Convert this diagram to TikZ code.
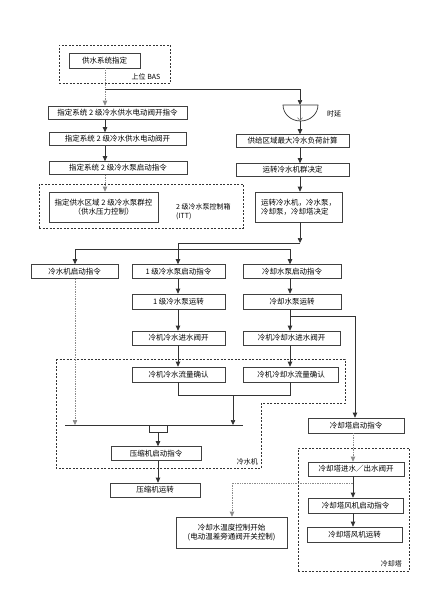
\documentclass[tikz,border=0pt]{standalone}
\usepackage{fontspec}
\setmainfont{Noto Sans CJK SC}
\usetikzlibrary{arrows.meta}
\begin{document}
\begin{tikzpicture}[x=1pt,y=-1pt,
  box/.style={draw=black!75, line width=0.65pt, minimum height=13pt, inner sep=1pt, align=center, font=\fontsize{7.5}{9.5}\selectfont},
  arr/.style={-{Triangle[width=4.5pt,length=5pt]}, line width=0.7pt, draw=black!80},
  dotarr/.style={-{Triangle[width=4.5pt,length=5pt]}, densely dotted, line width=0.7pt, draw=black!45},
  ln/.style={line width=0.7pt, draw=black!80},
  dln/.style={densely dotted, line width=0.7pt, draw=black!45},
  grp/.style={draw=black!80, dash pattern=on 2pt off 1.5pt, line width=0.6pt, inner sep=0pt},
  lbl/.style={font=\fontsize{7}{9}\selectfont, inner sep=0pt}
]
\useasboundingbox (0,0) rectangle (433,608);

% ---------- top left ----------
\node[grp, minimum width=111pt, minimum height=38pt] (g0) at (114.5,64) {};
\node[box, minimum width=71pt, minimum height=15pt] (n0) at (104.5,60.5) {供水系统指定};
\node[lbl] (l0) at (146,77) {上位 BAS};

\node[box, minimum width=139pt] (s1) at (117.5,112.5) {指定系统 2 级冷水供水电动阀开指令};
\node[box, minimum width=137pt] (s2) at (117.5,139) {指定系统 2 级冷水供水电动阀开};
\node[box, minimum width=138pt] (s3) at (118,168) {指定系统 2 级冷水泵启动指令};
\node[grp, minimum width=204pt, minimum height=44pt] (g1) at (141,206) {};
\node[box, minimum width=109pt, minimum height=30pt] (s4) at (103.5,207) {指定供水区域 2 级冷水泵群控\\（供水压力控制）};
\node[lbl, anchor=west, align=left] (l1) at (176,212) {2 级冷水泵控制箱\\(ITT)};

\coordinate (k0) at (105,89);
\draw[dln] (n0.south -| k0) -- (k0);
\draw[dotarr] (k0) -- (s1.north -| k0);
\draw[arr] (s1.south -| k0) -- (s2.north -| k0);
\draw[arr] (s2.south -| k0) -- (s3.north -| k0);
\draw[dotarr] (s3.south -| k0) -- (s4.north -| k0);

% ---------- right column ----------
\coordinate (kR) at (300,89);
\coordinate (dT) at (300,105);
\coordinate (dB) at (300,121);
\draw[ln] (k0) -- (kR);
\draw[arr] (kR) -- (dT);
\draw[ln] (283,105) -- (318,105) .. controls (318,113.8) and (310.2,121) .. (300.5,121) .. controls (290.8,121) and (283,113.8) .. (283,105) -- cycle;
\draw[-{Straight Barb[length=3pt,width=5pt]}, line width=0.5pt, draw=black!60] (dT) -- (dB);
\node[lbl] (tl) at (334,114) {时延};

\node[box, minimum width=113pt] (r1) at (292.5,141) {供给区域最大冷水负荷計算};
\node[box, minimum width=113pt] (r2) at (292.5,170) {运转冷水机群决定};
\node[box, minimum width=87pt, minimum height=30pt, align=left] (r3) at (298.5,207) {运转冷水机，冷水泵，\\冷却泵，冷却塔决定};
\draw[arr] (dB) -- (r1.north -| dB);
\draw[arr] (r1.south -| dB) -- (r2.north -| dB);
\draw[arr] (r2.south -| dB) -- (r3.north -| dB);

% ---------- distribution ----------
\coordinate (J) at (300,243);
\coordinate (Jb) at (178,243);
\coordinate (ha) at (75,249);
\coordinate (hc) at (290,249);
\draw[arr] (r3.south -| J) -- (J);
\draw[ln] (J) -- (Jb);
\draw[ln] (ha) -- (hc);

\node[box, minimum width=87pt, minimum height=14pt] (a1) at (74.5,271.5) {冷水机启动指令};
\node[box, minimum width=93pt, minimum height=14pt] (b1) at (178.5,271.5) {1 级冷水泵启动指令};
\node[box, minimum width=98pt, minimum height=14pt] (c1) at (292,271.5) {冷却水泵启动指令};
\draw[arr] (ha) -- (a1.north -| ha);
\draw[arr] (Jb) -- (b1.north -| Jb);
\draw[arr] (hc) -- (c1.north -| hc);

\node[box, minimum width=93pt, minimum height=15pt] (b2) at (178.5,301.5) {1 级冷水泵运转};
\node[box, minimum width=98pt, minimum height=15pt] (c2) at (292,301.5) {冷却水泵运转};
\draw[arr] (b1.south -| Jb) -- (b2.north -| Jb);
\draw[arr] (c1.south -| hc) -- (c2.north -| hc);

\node[box, minimum width=93pt, minimum height=14pt] (b3) at (178.5,338) {冷机冷水进水阀开};
\node[box, minimum width=97pt, minimum height=14pt] (c3) at (291.5,338) {冷机冷却水进水阀开};
\draw[arr] (b2.south -| Jb) -- (b3.north -| Jb);
\draw[arr] (c2.south -| hc) -- (c3.north -| hc);

% ---------- chiller group ----------
\draw[grp] (56,359) -- (345,359) -- (345,403) -- (261,403) -- (261,468) -- (56,468) -- cycle;
\node[lbl, anchor=east] (l2) at (258,462) {冷水机};

\node[box, minimum width=93pt, minimum height=15pt] (b4) at (178.5,374.5) {冷机冷水流量确认};
\node[box, minimum width=95pt, minimum height=15pt] (c4) at (291,374.5) {冷机冷却水流量确认};
\draw[arr] (b3.south -| Jb) -- (b4.north -| Jb);
\draw[arr] (c3.south -| hc) -- (c4.north -| hc);

\coordinate (m1) at (178,395);
\coordinate (m2) at (290,395);
\coordinate (mm) at (233,395);
\coordinate (bar1) at (65,425);
\coordinate (bar2) at (243,425);
\draw[ln] (b4.south -| Jb) -- (m1) -- (m2) -- (c4.south -| hc);
\draw[ln] (bar1) -- (bar2);
\draw[arr] (mm) -- (mm |- bar1);
\draw[dotarr] (a1.south -| ha) -- (ha |- bar1);
\draw[ln] (149,425) -- (149,432) -- (167,432) -- (167,425);
\coordinate (andb) at (158,432);

\node[box, minimum width=90pt, minimum height=14pt] (p1) at (156,453.5) {压缩机启动指令};
\node[box, minimum width=90pt, minimum height=14pt] (p2) at (155,490) {压缩机运转};
\draw[arr] (andb) -- (p1.north -| andb);
\draw[arr] (p1.south -| andb) -- (p2.north -| andb);

% ---------- cooling tower ----------
\coordinate (cb) at (290,316);
\coordinate (cb2) at (355,316);
\node[box, minimum width=96pt, minimum height=15pt] (ct1) at (356,425.5) {冷却塔启动指令};
\draw[arr] (cb) -- (cb2) -- (ct1.north -| cb2);

\node[grp, minimum width=111pt, minimum height=123pt] (g2) at (353.5,509.5) {};
\node[lbl, anchor=east] (l3) at (402,564) {冷却塔};
\node[box, minimum width=96pt, minimum height=14pt] (ct2) at (356,469) {冷却塔进水／出水阀开};
\node[box, minimum width=95pt, minimum height=15pt] (ct3) at (355.5,505.5) {冷却塔风机启动指令};
\node[box, minimum width=95pt, minimum height=15pt] (ct4) at (354.5,534.5) {冷却塔风机运转};

\coordinate (t1) at (353,483);
\coordinate (t2) at (232,483);
\draw[dotarr] (ct1.south -| t1) -- (ct2.north -| t1);
\draw[arr] (ct2.south -| t1) -- (ct3.north -| t1);
\draw[arr] (ct3.south -| t1) -- (ct4.north -| t1);
\draw[dln] (t1) -- (t2);

\node[box, minimum width=111pt, minimum height=31pt] (tb) at (231.5,532.5) {冷却水温度控制开始\\(电动温差旁通阀开关控制)};
\draw[dotarr] (t2) -- (tb.north -| t2);
\end{tikzpicture}
\end{document}
